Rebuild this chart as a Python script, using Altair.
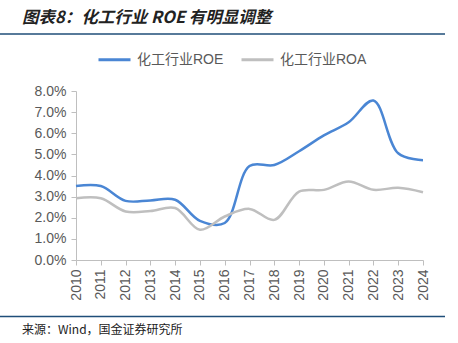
import altair as alt
import pandas as pd

years = list(range(2010, 2025))
roe = [3.50, 3.50, 2.80, 2.82, 2.85, 1.85, 1.75, 4.45, 4.50, 5.15, 5.90, 6.52, 7.55, 5.05, 4.72]
roa = [2.92, 2.92, 2.30, 2.32, 2.46, 1.43, 2.06, 2.42, 1.90, 3.24, 3.32, 3.72, 3.32, 3.42, 3.21]
series_names = ["化工行业ROE", "化工行业ROA"]
series_colors = ["#4A86D4", "#BFBFBF"]
y_ticks = [0, 1, 2, 3, 4, 5, 6, 7, 8]
title_text = "图表8：化工行业 ROE 有明显调整"
source_text = "来源：Wind，国金证券研究所"

FONT = "Liberation Sans, Noto Sans CJK SC, sans-serif"
CJK = "Noto Sans CJK SC, sans-serif"

rows = []
for y, a, b in zip(years, roe, roa):
    rows.append({"year": y, "value": a, "series": series_names[0]})
    rows.append({"year": y, "value": b, "series": series_names[1]})
df = pd.DataFrame(rows)

lines = alt.Chart(df).mark_line(interpolate="catmull-rom", strokeWidth=2.5).encode(
    x=alt.X("year:Q",
            scale=alt.Scale(domain=[2010, 2024], nice=False, zero=False),
            axis=alt.Axis(values=years, format="d", labelAngle=-90, title=None,
                          labelPadding=4)),
    y=alt.Y("value:Q",
            scale=alt.Scale(domain=[0, 8], nice=False),
            axis=alt.Axis(values=y_ticks, title=None,
                          labelExpr="format(datum.value, '.1f') + '%'",
                          labelPadding=5)),
    color=alt.Color("series:N",
                    scale=alt.Scale(domain=series_names, range=series_colors),
                    sort=series_names,
                    legend=alt.Legend(title=None, orient="none", legendX=21, legendY=-49,
                                      direction="horizontal", symbolType="stroke",
                                      symbolSize=1024, symbolStrokeWidth=3,
                                      labelFontSize=14, labelColor="#595959",
                                      labelFont=FONT, columnPadding=11, labelOffset=5)),
)

title = alt.Chart(pd.DataFrame({"t": [title_text]})).mark_text(
    align="left", baseline="middle", font=CJK, fontSize=16.5, fontStyle="italic",
    fontWeight="bold", color="#222222"
).encode(x=alt.value(-54), y=alt.value(-73), text="t:N")

source = alt.Chart(pd.DataFrame({"t": [source_text]})).mark_text(
    align="left", baseline="middle", font=CJK, fontSize=12, color="#222222"
).encode(x=alt.value(-54), y=alt.value(239), text="t:N")

rule_top = alt.Chart(pd.DataFrame({"a": [0]})).mark_rule(color="#1F4E79", strokeWidth=1.5).encode(
    x=alt.value(-76), x2=alt.value(369), y=alt.value(-57))
rule_bot = alt.Chart(pd.DataFrame({"a": [0]})).mark_rule(color="#1F4E79", strokeWidth=1.5).encode(
    x=alt.value(-76), x2=alt.value(369), y=alt.value(225.5))

chart = alt.layer(lines, title, source, rule_top, rule_bot).properties(
    width=347, height=169,
    background="white",
    autosize=alt.AutoSizeParams(type="none"),
    padding={"left": 76, "top": 91, "right": 35, "bottom": 83},
).configure_view(stroke=None).configure_axis(
    grid=False, domainColor="#BFBFBF", tickColor="#BFBFBF", tickSize=5,
    labelColor="#595959", labelFontSize=14, labelFont=FONT,
)

chart.save("out.html", embed_options={"renderer": "svg", "actions": False})
